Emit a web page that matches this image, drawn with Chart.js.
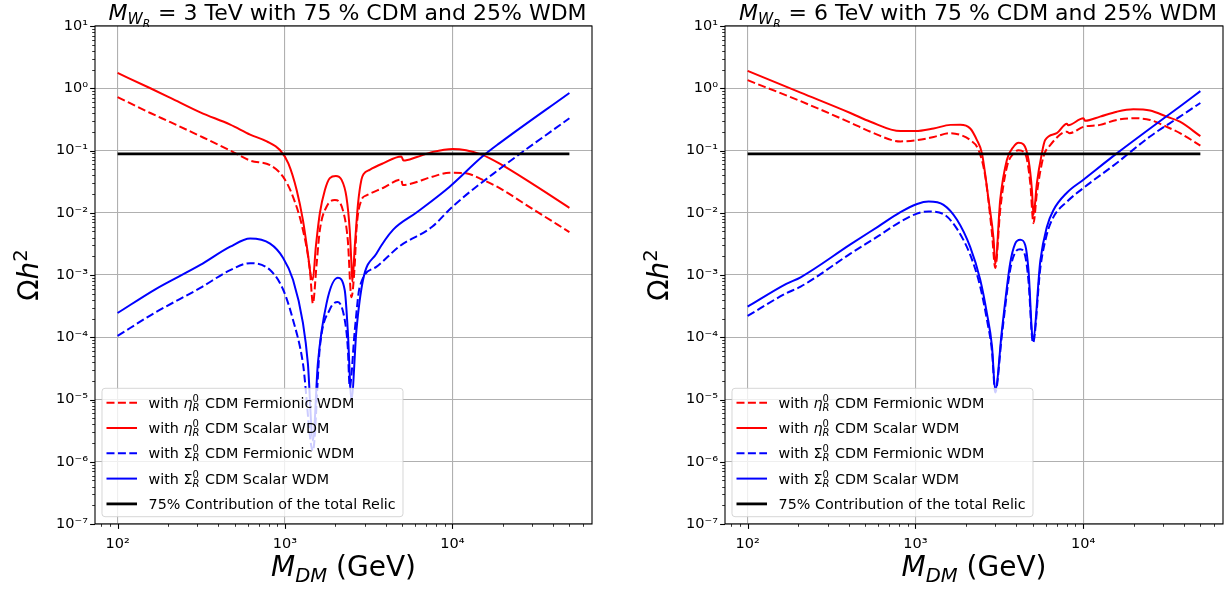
<!DOCTYPE html>
<html>
<head>
<meta charset="utf-8">
<script src="https://cdn.jsdelivr.net/npm/chart.js@4.4.1/dist/chart.umd.min.js"></script>
<style>
  html, body { margin: 0; padding: 0; background: #fff; }
  #wrap { position: relative; width: 1230px; height: 590px; overflow: hidden; }
  .panel { position: absolute; top: 0; width: 615px; height: 590px; }
</style>
</head>
<body>
<div id="wrap">
  <div class="panel" style="left:0"><canvas id="left" width="615" height="590"></canvas></div>
  <div class="panel" style="left:615px"><canvas id="right" width="615" height="590"></canvas></div>
</div>
<script>
// ---- data: M_WR = 3 TeV panel (M in GeV, Omega h^2) ----
const m3EtaFermionic = [100, 157, 207, 312, 471, 619, 815, 973, 1117, 1280, 1409, 1468, 1545, 1616, 1771, 1985, 2213, 2371, 2495, 2612, 2672, 2862, 3065, 3849, 4955, 5038, 7603, 9594, 12065, 15100, 19050, 30760, 50000];
const omega3EtaFermionic = [0.72, 0.40, 0.285, 0.17, 0.10, 0.069, 0.058, 0.038, 0.018, 0.0053, 0.0012, 0.00035, 0.0015, 0.0053, 0.0125, 0.016, 0.0112, 0.0037, 0.00044, 0.0015, 0.0053, 0.016, 0.019, 0.025, 0.034, 0.028, 0.038, 0.044, 0.043, 0.034, 0.025, 0.0111, 0.0049];

const m3EtaScalar = [100, 157, 207, 312, 471, 619, 778, 933, 1047, 1175, 1280, 1370, 1429, 1465, 1530, 1616, 1730, 1853, 2012, 2175, 2328, 2436, 2495, 2525, 2612, 2731, 2862, 2951, 3206, 3849, 4955, 5108, 6077, 7640, 10040, 12065, 15100, 19050, 30760, 50000];
const omega3EtaScalar = [1.76, 1.0, 0.70, 0.41, 0.26, 0.18, 0.14, 0.102, 0.062, 0.023, 0.0076, 0.0022, 0.00095, 0.00084, 0.0029, 0.0099, 0.023, 0.036, 0.039, 0.034, 0.018, 0.0053, 0.0015, 0.00078, 0.0029, 0.014, 0.034, 0.042, 0.049, 0.062, 0.080, 0.069, 0.078, 0.095, 0.106, 0.101, 0.085, 0.062, 0.028, 0.012];

const m3SigmaFermionic = [100, 168, 312, 471, 619, 815, 973, 1117, 1280, 1468, 1616, 1853, 2067, 2275, 2371, 2436, 2612, 2794, 3514, 4840, 7603, 10000, 19050, 50000];
const omega3SigmaFermionic = [1.05e-4, 2.5e-4, 6.2e-4, 1.2e-3, 1.55e-3, 1.2e-3, 5.9e-4, 1.9e-4, 3.8e-5, 1.5e-6, 7e-5, 2.8e-4, 3.7e-4, 1.9e-4, 7e-5, 1.6e-5, 1.3e-4, 6.4e-4, 1.35e-3, 2.9e-3, 6e-3, 1.25e-2, 5e-2, 0.33];

const m3SigmaScalar = [100, 168, 312, 471, 619, 815, 973, 1117, 1280, 1370, 1468, 1572, 1771, 2067, 2275, 2371, 2495, 2672, 2927, 3514, 4417, 6077, 9594, 15100, 19050, 50000];
const omega3SigmaScalar = [2.45e-4, 5.9e-4, 1.45e-3, 2.85e-3, 3.85e-3, 3.2e-3, 1.9e-3, 8.4e-4, 1.7e-4, 3.8e-5, 2.2e-6, 3.8e-5, 3.5e-4, 9e-4, 5.7e-4, 1.3e-4, 1.0e-5, 1.3e-4, 8.4e-4, 2.2e-3, 5.3e-3, 1.0e-2, 2.6e-2, 8e-2, 0.13, 0.84];

// ---- data: M_WR = 6 TeV panel ----
const m6EtaFermionic = [100, 207, 410, 540, 815, 1000, 1285, 1616, 1853, 2124, 2383, 2612, 2862, 2994, 3206, 3514, 3849, 4122, 4520, 4840, 5060, 5300, 5806, 6368, 8000, 8300, 10040, 12620, 15880, 19920, 25060, 31500, 37770, 50000];
const omega6EtaFermionic = [1.35, 0.62, 0.28, 0.20, 0.14, 0.145, 0.165, 0.19, 0.178, 0.147, 0.101, 0.038, 0.0047, 0.0013, 0.0112, 0.055, 0.090, 0.101, 0.088, 0.030, 0.0068, 0.0205, 0.080, 0.122, 0.20, 0.19, 0.24, 0.258, 0.31, 0.33, 0.31, 0.24, 0.19, 0.12];

const m6EtaScalar = [100, 207, 410, 540, 815, 1000, 1285, 1616, 1853, 2124, 2328, 2494, 2731, 2927, 2994, 3206, 3514, 3849, 4122, 4417, 4725, 4955, 5060, 5300, 5675, 5940, 6970, 8000, 8145, 10040, 10280, 12620, 15880, 19920, 25060, 31500, 37770, 50000];
const omega6EtaScalar = [1.9, 0.85, 0.40, 0.29, 0.205, 0.205, 0.226, 0.258, 0.26, 0.226, 0.147, 0.090, 0.0162, 0.0037, 0.0015, 0.0162, 0.071, 0.115, 0.133, 0.125, 0.071, 0.023, 0.0092, 0.0297, 0.090, 0.147, 0.19, 0.27, 0.255, 0.33, 0.30, 0.35, 0.42, 0.46, 0.44, 0.35, 0.29, 0.17];

const m6SigmaFermionic = [100, 170, 207, 410, 600, 815, 1024, 1200, 1472, 1771, 2124, 2436, 2672, 2862, 2994, 3282, 3673, 3936, 4217, 4520, 4725, 5024, 5560, 6080, 6650, 8000, 10040, 15880, 25060, 37770, 50000];
const omega6SigmaFermionic = [2.2e-4, 5.1e-4, 6.5e-4, 2.2e-3, 4.2e-3, 7.2e-3, 9.7e-3, 1.05e-2, 9.5e-3, 5.5e-3, 2.1e-3, 6.5e-4, 1.9e-4, 6e-5, 1.3e-5, 1.1e-4, 1.2e-3, 2.3e-3, 2.6e-3, 2.0e-3, 8e-4, 8.1e-5, 1.3e-3, 4.5e-3, 8.5e-3, 1.5e-2, 2.5e-2, 6.3e-2, 0.168, 0.35, 0.58];

const m6SigmaScalar = [100, 170, 207, 410, 600, 815, 1024, 1200, 1472, 1771, 2124, 2436, 2672, 2862, 2994, 3282, 3673, 3936, 4217, 4520, 4725, 5024, 5560, 6080, 6650, 8000, 10040, 15880, 25060, 37770, 50000];
const omega6SigmaScalar = [3.1e-4, 7.2e-4, 9.2e-4, 3.1e-3, 6.0e-3, 1.02e-2, 1.38e-2, 1.51e-2, 1.34e-2, 7.7e-3, 2.8e-3, 8.4e-4, 2.4e-4, 7.2e-5, 1.4e-5, 1.3e-4, 1.54e-3, 3.2e-3, 3.7e-3, 3.0e-3, 1.2e-3, 9.1e-5, 1.7e-3, 5.9e-3, 1.1e-2, 2.1e-2, 3.4e-2, 9.0e-2, 0.226, 0.51, 0.9];

// 75% of the total relic
const relicM = [100, 50000];
const relicOmega = [0.088, 0.088];

// ---- axes ----
const xMajorTicks = [100, 1000, 10000];
const xTickLabels = ['10²', '10³', '10⁴'];
const yMajorTicks = [1e-7, 1e-6, 1e-5, 1e-4, 1e-3, 1e-2, 1e-1, 1, 10];
const yTickLabels = ['10⁻⁷', '10⁻⁶', '10⁻⁵', '10⁻⁴', '10⁻³', '10⁻²', '10⁻¹', '10⁰', '10¹'];
const xMin = 73.3, xMax = 68230;
const yMin = 1e-7, yMax = 10;

const FAM = '"DejaVu Sans", sans-serif';
const font = (size, italic) => (italic ? 'italic ' : '') + size + 'px ' + FAM;
const isMajor = v => Math.abs(Math.log10(v) - Math.round(Math.log10(v))) < 1e-6;

function withMinors(majors, lo, hi) {
  const out = [];
  majors.forEach(d => {
    for (let k = 1; k <= 9; k++) {
      const v = k * d;
      if (v >= lo && v <= hi) out.push(v);
    }
  });
  const below = majors[0] / 10;
  for (let k = 1; k <= 9; k++) if (k * below >= lo && k * below < majors[0]) out.unshift(k * below);
  return out.sort((a, b) => a - b);
}

function labelFor(v, majors, labels) {
  const i = majors.findIndex(m => Math.abs(Math.log10(m) - Math.log10(v)) < 1e-6);
  return i >= 0 ? labels[i] : '';
}

function drawRich(ctx, pieces, x, y, align) {
  const items = pieces.map(p => {
    let w;
    if (p.sup !== undefined) {
      ctx.font = font(p.size, false); const a = ctx.measureText(p.sup).width;
      ctx.font = font(p.size, true); const b = ctx.measureText(p.sub).width;
      w = Math.max(a, b);
    } else {
      ctx.font = font(p.size, p.italic); w = ctx.measureText(p.text).width;
    }
    return { p, w: w + (p.gap || 0) };
  });
  const total = items.reduce((s, it) => s + it.w, 0);
  let cx = align === 'center' ? x - total / 2 : x;
  ctx.textAlign = 'left';
  ctx.textBaseline = 'alphabetic';
  items.forEach(({ p, w }) => {
    if (p.sup !== undefined) {
      ctx.font = font(p.size, false); ctx.fillText(p.sup, cx, y - p.up);
      ctx.font = font(p.size, true); ctx.fillText(p.sub, cx, y + p.down);
    } else {
      ctx.font = font(p.size, p.italic); ctx.fillText(p.text, cx, y + (p.dy || 0));
    }
    cx += w;
  });
}

const L = 14.3;
const script = (sym) => [{ text: 'with ', size: L }, sym, { sup: '0', sub: 'R', size: L * 0.7, up: 6, down: 3, gap: 1 }];
const legendRows = [
  { color: 'red', dash: [8, 3.4], width: 2, pieces: script({ text: 'η', size: L, italic: true }).concat([{ text: ' CDM Fermionic WDM', size: L }]) },
  { color: 'red', dash: [], width: 2, pieces: script({ text: 'η', size: L, italic: true }).concat([{ text: ' CDM Scalar WDM', size: L }]) },
  { color: 'blue', dash: [8, 3.4], width: 2, pieces: script({ text: 'Σ', size: L }).concat([{ text: ' CDM Fermionic WDM', size: L }]) },
  { color: 'blue', dash: [], width: 2, pieces: script({ text: 'Σ', size: L }).concat([{ text: ' CDM Scalar WDM', size: L }]) },
  { color: 'black', dash: [], width: 2.8, pieces: [{ text: '75% Contribution of the total Relic', size: L }] }
];

const decorPlugin = {
  id: 'decor',
  afterDraw(chart) {
    const ctx = chart.ctx;
    const a = chart.chartArea;
    const xs = chart.scales.x, ys = chart.scales.y;
    ctx.save();
    // tick marks (outward, major longer)
    ctx.strokeStyle = '#000';
    xs.ticks.forEach(t => {
      const px = Math.round(xs.getPixelForValue(t.value)) + 0.5;
      const len = isMajor(t.value) ? 4.9 : 2.8;
      ctx.lineWidth = isMajor(t.value) ? 1.1 : 0.8;
      ctx.beginPath(); ctx.moveTo(px, a.bottom); ctx.lineTo(px, a.bottom + len); ctx.stroke();
    });
    ys.ticks.forEach(t => {
      const py = Math.round(ys.getPixelForValue(t.value)) + 0.5;
      const len = isMajor(t.value) ? 4.9 : 2.8;
      ctx.lineWidth = isMajor(t.value) ? 1.1 : 0.8;
      ctx.beginPath(); ctx.moveTo(a.left, py); ctx.lineTo(a.left - len, py); ctx.stroke();
    });
    // frame
    ctx.lineWidth = 1.1;
    ctx.strokeRect(a.left, a.top, a.right - a.left, a.bottom - a.top);

    // legend (lower left)
    const bx = a.left + 7, bw = 301, bh = 128.4, by = a.bottom - 7.3 - bh;
    ctx.beginPath();
    ctx.roundRect(bx, by, bw, bh, 3);
    ctx.fillStyle = 'rgba(255,255,255,0.8)';
    ctx.fill();
    ctx.strokeStyle = 'rgba(204,204,204,0.8)';
    ctx.lineWidth = 1;
    ctx.stroke();
    legendRows.forEach((row, i) => {
      const cy = by + 14.4 + i * 25.3;
      ctx.beginPath();
      ctx.setLineDash(row.dash);
      ctx.strokeStyle = row.color;
      ctx.lineWidth = row.width;
      ctx.moveTo(bx + 4.5, cy); ctx.lineTo(bx + 35, cy);
      ctx.stroke();
      ctx.setLineDash([]);
      ctx.fillStyle = '#000';
      drawRich(ctx, row.pieces, bx + 46.6, cy + 5);
    });

    // title and axis labels
    const o = chart.options.plugins.decor;
    const cxm = (a.left + a.right) / 2;
    ctx.fillStyle = '#000';
    const T = 22;
    drawRich(ctx, [
      { text: 'M', size: T, italic: true },
      { text: 'W', size: T * 0.7, italic: true, dy: 4 },
      { text: 'R', size: T * 0.49, italic: true, dy: 7.5, gap: 1 },
      { text: ' = ' + o.mass + ' TeV with 75 % CDM and 25% WDM', size: T }
    ], cxm + 4, 19.5, 'center');
    const A = 28;
    drawRich(ctx, [
      { text: 'M', size: A, italic: true },
      { text: 'DM', size: A * 0.7, italic: true, dy: 6 },
      { text: ' (GeV)', size: A }
    ], cxm, 576, 'center');
    ctx.save();
    ctx.translate(a.left - 57, (a.top + a.bottom) / 2);
    ctx.rotate(-Math.PI / 2);
    drawRich(ctx, [
      { text: 'Ω', size: A },
      { text: 'h', size: A, italic: true },
      { text: '2', size: A * 0.7, dy: -11 }
    ], 0, 0, 'center');
    ctx.restore();
    ctx.restore();
  }
};

const pairs = (m, w) => m.map((x, i) => ({ x, y: w[i] }));
const DASH = [8, 3.4];

function makePanel(id, mass, yAxisWidth, padRight, s) {
  const line = (m, w, color, dash, width) => ({
    data: pairs(m, w), borderColor: color, borderWidth: width || 2, borderDash: dash,
    pointRadius: 0, fill: false, cubicInterpolationMode: 'monotone'
  });
  const gridColor = c => (c.tick && isMajor(c.tick.value)) ? '#b0b0b0' : 'rgba(0,0,0,0)';
  return new Chart(document.getElementById(id), {
    type: 'line',
    data: {
      // first dataset is drawn on top
      datasets: [
        line(relicM, relicOmega, 'black', [], 2.8),
        line(s.sigmaS[0], s.sigmaS[1], 'blue', []),
        line(s.sigmaF[0], s.sigmaF[1], 'blue', DASH),
        line(s.etaS[0], s.etaS[1], 'red', []),
        line(s.etaF[0], s.etaF[1], 'red', DASH)
      ]
    },
    options: {
      responsive: false,
      animation: false,
      devicePixelRatio: 1,
      layout: { padding: { left: 0, right: padRight, top: 26, bottom: 26 } },
      plugins: { legend: { display: false }, title: { display: false }, tooltip: { enabled: false }, decor: { mass } },
      scales: {
        x: {
          type: 'logarithmic', min: xMin, max: xMax,
          afterBuildTicks: sc => { sc.ticks = withMinors(xMajorTicks, xMin, xMax).map(v => ({ value: v })); },
          afterFit: sc => { sc.height = 40; },
          border: { display: false },
          grid: { color: gridColor, lineWidth: 1.1, drawTicks: false },
          ticks: { autoSkip: false, maxRotation: 0, padding: 12, color: '#000', font: { family: FAM, size: 14.5 },
                   callback: v => labelFor(v, xMajorTicks, xTickLabels) }
        },
        y: {
          type: 'logarithmic', min: yMin, max: yMax,
          afterBuildTicks: sc => { sc.ticks = withMinors(yMajorTicks, yMin, yMax).map(v => ({ value: v })); },
          afterFit: sc => { sc.width = yAxisWidth; },
          border: { display: false },
          grid: { color: gridColor, lineWidth: 1.1, drawTicks: false },
          ticks: { autoSkip: false, padding: 7, color: '#000', font: { family: FAM, size: 14.5 },
                   callback: v => labelFor(v, yMajorTicks, yTickLabels) }
        }
      }
    },
    plugins: [decorPlugin]
  });
}

makePanel('left', 3, 95, 23, {
  etaF: [m3EtaFermionic, omega3EtaFermionic], etaS: [m3EtaScalar, omega3EtaScalar],
  sigmaF: [m3SigmaFermionic, omega3SigmaFermionic], sigmaS: [m3SigmaScalar, omega3SigmaScalar]
});
makePanel('right', 6, 110, 7, {
  etaF: [m6EtaFermionic, omega6EtaFermionic], etaS: [m6EtaScalar, omega6EtaScalar],
  sigmaF: [m6SigmaFermionic, omega6SigmaFermionic], sigmaS: [m6SigmaScalar, omega6SigmaScalar]
});
</script>
</body>
</html>
